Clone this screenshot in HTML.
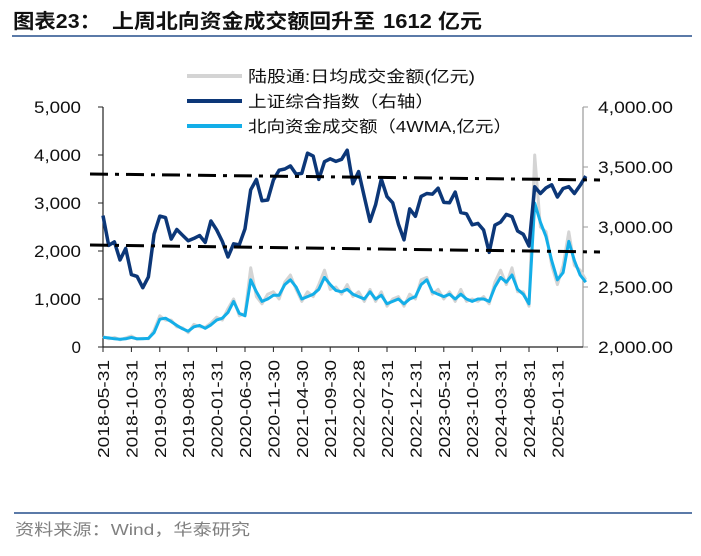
<!DOCTYPE html>
<html><head><meta charset="utf-8">
<style>
body{margin:0;background:#fff;}
svg text{font-family:"Liberation Sans","Noto Sans CJK SC",sans-serif;}
</style></head>
<body>
<svg id="c" width="701" height="551" viewBox="0 0 701 551" xmlns="http://www.w3.org/2000/svg">
<g font-size="20" font-weight="bold" fill="#111">
<text x="13" y="28" textLength="88" lengthAdjust="spacingAndGlyphs">图表23：</text>
<text x="112" y="28" textLength="263" lengthAdjust="spacingAndGlyphs">上周北向资金成交额回升至</text>
<text x="383" y="28" textLength="99" lengthAdjust="spacingAndGlyphs">1612 亿元</text>
</g>
<line x1="12" y1="36" x2="692" y2="36" stroke="#5b7aa8" stroke-width="2"/>
<line x1="14" y1="513" x2="692" y2="513" stroke="#5b7aa8" stroke-width="2"/>
<text x="15" y="535" font-size="16" fill="#808080" textLength="235" lengthAdjust="spacingAndGlyphs">资料来源：Wind，华泰研究</text>
<g>
<line x1="187" y1="76" x2="242" y2="76" stroke="#d4d4d4" stroke-width="4"/>
<text x="248" y="82" font-size="16" fill="#111" textLength="227" lengthAdjust="spacingAndGlyphs">陆股通:日均成交金额(亿元)</text>
<line x1="187" y1="101" x2="242" y2="101" stroke="#0c3778" stroke-width="4"/>
<text x="248" y="107" font-size="16" fill="#111" textLength="186" lengthAdjust="spacingAndGlyphs">上证综合指数（右轴）</text>
<line x1="187" y1="126" x2="242" y2="126" stroke="#13aee8" stroke-width="4"/>
<text x="248" y="132" font-size="16" fill="#111" textLength="264" lengthAdjust="spacingAndGlyphs">北向资金成交额（4WMA,亿元）</text>
</g>
<g id="plot"></g>
</svg>
<script>
const leftTicks=[0,1000,2000,3000,4000,5000];
const leftTickLabels=["0","1,000","2,000","3,000","4,000","5,000"];
const rightTicks=[2000,2500,3000,3500,4000];
const rightTickLabels=["2,000.00","2,500.00","3,000.00","3,500.00","4,000.00"];
const xLabels=["2018-05-31","2018-10-31","2019-03-31","2019-08-31","2020-01-31","2020-06-30","2020-11-30","2021-04-30","2021-09-30","2022-02-28","2022-07-31","2022-12-31","2023-05-31","2023-10-31","2024-03-31","2024-08-31","2025-01-31"];
const sseIndex=[3095,2847,2876,2725,2821,2603,2588,2494,2584,2941,3091,3078,2899,2979,2932,2886,2905,2929,2872,3050,2977,2880,2750,2860,2852,2985,3310,3396,3218,3225,3392,3473,3483,3509,3441,3447,3615,3591,3397,3544,3568,3547,3564,3640,3361,3462,3252,3047,3186,3399,3253,3202,3024,2893,3151,3089,3255,3279,3273,3323,3205,3202,3291,3120,3110,3018,3030,2975,2789,3015,3041,3105,3087,2967,2939,2842,3336,3279,3326,3352,3250,3321,3336,3279,3347,3424];
const northbound4wma=[200,190,170,160,170,200,170,170,180,300,580,600,530,450,380,330,420,450,390,460,560,600,720,950,700,650,1400,1150,950,1000,1080,1080,1300,1400,1250,1000,1050,1100,1200,1450,1300,1180,1150,1200,1100,1050,1000,1150,1000,1080,900,950,1000,900,1000,1050,1300,1400,1150,1100,1050,1100,1000,1100,1000,950,1000,1000,950,1250,1450,1350,1500,1200,1100,900,3000,2600,2300,1800,1400,1550,2200,1800,1500,1350];
const northboundDaily=[220,170,200,150,190,230,160,180,170,350,650,560,560,420,400,300,470,420,410,500,620,560,800,1000,650,700,1650,1050,900,1100,1150,1000,1350,1500,1200,950,1150,1050,1300,1600,1200,1250,1100,1300,1050,1150,950,1200,950,1150,850,1000,1050,850,1100,1000,1400,1450,1100,1200,1000,1150,950,1200,950,1000,950,1050,900,1350,1600,1300,1650,1150,1150,850,4000,2500,2400,1700,1300,1700,2400,1700,1600,1400];

const X0=103,X1=583,Y0=347,Y1=107,MONTH_W=28.4/5;
const xs=i=>X0+i*MONTH_W;
const yL=v=>Y0-(v/5000)*(Y0-Y1);
const yR=v=>Y0-((v-2000)/2000)*(Y0-Y1);
const NS="http://www.w3.org/2000/svg";
const g=document.getElementById('plot');
function mk(t,a){const e=document.createElementNS(NS,t);for(const k in a)e.setAttribute(k,a[k]);g.appendChild(e);return e;}

let e=mk('line',{x1:X0,y1:Y1,x2:X0,y2:Y0,stroke:'#222','stroke-width':1.2});


e=mk('line',{x1:X1,y1:Y1,x2:X1,y2:Y0,stroke:'#999','stroke-width':1.2});


e=mk('line',{x1:X0,y1:Y0,x2:X1,y2:Y0,stroke:'#222','stroke-width':1.2});



leftTicks.forEach((v,i)=>{
  mk('line',{x1:X0-5,y1:yL(v),x2:X0,y2:yL(v),stroke:'#222'});
  const lab=leftTickLabels[i];
  const a={x:81,y:yL(v)+6,'font-size':17,'text-anchor':'end',fill:'#111'};
  if(lab.length>1){a.textLength=47;a.lengthAdjust='spacingAndGlyphs';}
  const t=mk('text',a);
  t.textContent=lab;
  
  
});
rightTicks.forEach((v,i)=>{
  mk('line',{x1:X1,y1:yR(v),x2:X1+5,y2:yR(v),stroke:'#999'});
  const t=mk('text',{x:598,y:yR(v)+6,'font-size':17,fill:'#111',textLength:75,lengthAdjust:'spacingAndGlyphs'});
  t.textContent=rightTickLabels[i];
  
  
});
xLabels.forEach((s,i)=>{
  const x=xs(i*5);
  mk('line',{x1:x,y1:Y0,x2:x,y2:Y0+5,stroke:'#222'});
  const t=mk('text',{x:0,y:0,'font-size':16,'text-anchor':'end',fill:'#111',textLength:98,lengthAdjust:'spacingAndGlyphs',transform:`translate(${x+6},${360}) rotate(-90)`});
  t.textContent=s;
  
  
});

function line(arr,yf,color,w,name){
  const d=arr.map((v,i)=>(i?'L':'M')+xs(i).toFixed(1)+','+yf(v).toFixed(1)).join('');
  const p=mk('path',{d:d,fill:'none',stroke:color,'stroke-width':w,'stroke-linejoin':'round'});
  
  
}
line(northboundDaily,yL,'#d4d4d4',3,'daily-turnover-line');
line(northbound4wma,yL,'#13aee8',3,'northbound-4wma-line');
line(sseIndex,yR,'#0c3778',3.5,'sse-index-line');

e=mk('line',{x1:90,y1:174,x2:600,y2:180,stroke:'#000','stroke-width':3,'stroke-dasharray':'18,7,4,7'});


e=mk('line',{x1:90,y1:245,x2:600,y2:252,stroke:'#000','stroke-width':3,'stroke-dasharray':'18,7,4,7'});


</script>
</body></html>
